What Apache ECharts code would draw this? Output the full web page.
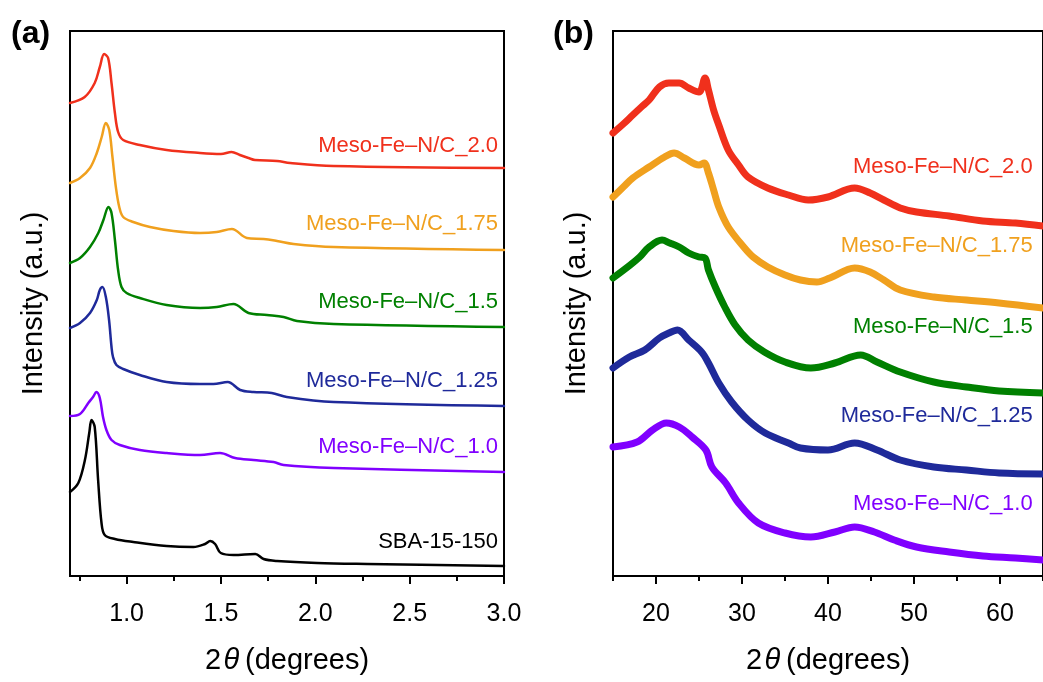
<!DOCTYPE html>
<html>
<head>
<meta charset="utf-8">
<title>XRD patterns</title>
<script src="https://cdn.jsdelivr.net/npm/echarts@6/dist/echarts.min.js"></script>
<style>
  html, body { margin: 0; padding: 0; background: #fff; }
  #chart { width: 1043px; height: 682px; }
</style>
</head>
<body>
<div id="chart"></div>
<script>
// sample names, top to bottom
var namesA = ['Meso-Fe–N/C_2.0', 'Meso-Fe–N/C_1.75', 'Meso-Fe–N/C_1.5', 'Meso-Fe–N/C_1.25', 'Meso-Fe–N/C_1.0', 'SBA-15-150'];
var namesB = ['Meso-Fe–N/C_2.0', 'Meso-Fe–N/C_1.75', 'Meso-Fe–N/C_1.5', 'Meso-Fe–N/C_1.25', 'Meso-Fe–N/C_1.0'];

// tick values
var majorA = [1.0, 1.5, 2.0, 2.5, 3.0];
var minorA = [0.75, 1.25, 1.75, 2.25, 2.75];
var majorB = [20, 30, 40, 50, 60];
var minorB = [15, 25, 35, 45, 55, 65];

// (a) low-angle patterns, [2theta, offset intensity]
var lowFe20 = [[0.70,473],[0.778,479],[0.831,493],[0.858,509],[0.881,522],[0.902,518],[0.920,493],[0.938,463],[0.955,444],[0.982,436],[1.070,431],[1.212,426],[1.389,423],[1.50,422],[1.556,424],[1.60,421],[1.646,418],[1.68,416],[1.797,415],[1.867,413],[2.096,410],[3.0,408]];
var lowFe175 = [[0.70,393],[0.753,398],[0.806,408],[0.842,423],[0.868,439],[0.890,453],[0.908,446],[0.925,419],[0.943,389],[0.961,369],[0.982,359],[1.035,354],[1.124,349],[1.248,345],[1.389,343],[1.478,344],[1.558,347],[1.637,338],[1.726,337],[1.797,335],[1.885,332],[2.098,329],[3.0,326]];
var lowFe15 = [[0.70,313],[0.753,318],[0.806,329],[0.850,343],[0.877,356],[0.904,369],[0.920,363],[0.938,336],[0.955,306],[0.973,289],[1.000,283],[1.070,278],[1.212,271],[1.389,268],[1.478,269],[1.566,272],[1.646,263],[1.744,261],[1.832,259],[1.903,255],[2.098,252],[3.0,249]];
var lowFe125 = [[0.70,248],[0.753,253],[0.806,263],[0.842,276],[0.858,286],[0.872,289],[0.890,279],[0.907,256],[0.920,229],[0.928,219],[0.946,211],[0.982,207],[1.070,201],[1.212,194],[1.389,192],[1.460,192],[1.536,194],[1.602,186],[1.672,184],[1.769,183],[1.849,179],[2.097,174],[3.0,170]];
var lowFe10 = [[0.70,160],[0.753,162],[0.797,173],[0.822,179],[0.840,184],[0.858,178],[0.875,159],[0.893,146],[0.920,136],[0.964,131],[1.070,126],[1.212,123],[1.389,121],[1.495,123],[1.575,118],[1.672,116],[1.779,114],[1.832,111],[2.098,108],[3.0,104]];
var lowSba = [[0.70,84],[0.744,93],[0.779,116],[0.802,143],[0.814,156],[0.831,149],[0.849,96],[0.867,53],[0.884,41],[0.938,37],[1.035,34],[1.212,30],[1.354,29],[1.416,32],[1.443,35],[1.469,32],[1.499,23],[1.567,21],[1.682,22],[1.726,17],[1.797,15],[2.009,13],[2.275,12],[3.0,10]];

// (b) wide-angle patterns
var wideFe20 = [[15,443],[16.2,452],[17.3,461],[18.3,469],[19.2,476],[20.4,489],[21.5,493],[22.7,493],[23.8,488],[25.0,484],[25.7,498],[26.1,486],[26.7,466],[27.3,451],[28.4,426],[29.6,411],[30.7,399],[33.0,388],[35.4,381],[37.7,376],[40.0,379],[43.1,388],[44.9,383],[46.5,376],[48.4,368],[50.3,364],[54.1,360],[58.0,355],[61.8,353],[65,350]];
var wideFe175 = [[15,379],[16.2,389],[17.3,398],[19.2,409],[21.0,419],[22.1,423],[23.3,418],[25.0,411],[25.6,413],[26.1,403],[26.7,386],[27.3,369],[28.4,349],[30.2,329],[31.3,319],[33.0,309],[35.0,301],[36.8,296],[38.7,294],[40.2,298],[43.1,308],[44.9,304],[46.5,296],[48.4,286],[52.3,279],[56.1,276],[59.9,273],[65,268]];
var wideFe15 = [[15,298],[17.0,311],[18.1,319],[19.2,329],[20.7,336],[21.6,333],[22.7,329],[23.8,323],[25.0,319],[25.7,318],[26.1,306],[26.9,289],[28.0,269],[29.2,251],[30.7,236],[32.6,224],[35.0,214],[38.0,208],[40.8,213],[43.8,221],[45.7,214],[48.4,204],[52.3,194],[56.1,189],[59.9,185],[65,183]];
var wideFe125 = [[15,208],[16.9,219],[18.7,226],[20.4,238],[21.5,243],[22.5,246],[23.8,236],[25.3,224],[26.1,213],[27.3,193],[28.8,174],[30.7,156],[32.7,143],[35.4,133],[36.8,128],[40.0,126],[43.1,133],[45.7,126],[48.4,116],[52.3,109],[56.1,106],[59.9,103],[65,102]];
var wideFe10 = [[15,129],[17.8,134],[19.6,146],[21.2,153],[22.7,149],[24.2,139],[25.8,126],[26.5,109],[28.1,93],[29.6,73],[31.9,53],[35.0,43],[38.0,39],[40.8,44],[43.1,49],[45.4,44],[47.7,36],[50.3,29],[54.1,24],[58.0,20],[61.8,18],[65,16]];

// label anchors [2theta, offset intensity]
var labelAtA = [[3.0,430],[3.0,352],[3.0,274],[3.0,195],[3.0,129],[3.0,34]];
var labelAtB = [[64.5,409],[64.5,330],[64.5,249],[64.5,160],[64.5,72]];

var colors = ['#f0301c', '#f0a01e', '#008000', '#1f2a9a', '#8000ff', '#000000'];
var font = 'Arial, "Liberation Sans", Helvetica, sans-serif';

var chart = echarts.init(document.getElementById('chart'));

function makeXAxes(grid, min, max, major, minor, digits) {
    return [{
        gridIndex: grid, type: 'value', min: min, max: max, position: 'bottom',
        axisLine: { show: true, lineStyle: { color: '#000', width: 2 } },
        axisTick: { show: true, length: 8, customValues: major, lineStyle: { color: '#000', width: 2 } },
        axisLabel: { customValues: major, margin: 26, color: '#000', fontSize: 25, fontFamily: font,
            formatter: function (v) { return v.toFixed(digits); } },
        splitLine: { show: false },
        name: '2\u200A{i|θ}\u2009(degrees)', nameLocation: 'middle', nameGap: 70,
        nameTextStyle: { color: '#000', fontSize: 29, fontFamily: font,
            rich: { i: { fontStyle: 'italic', fontSize: 29, fontFamily: font, color: '#000' } } }
    }, {
        gridIndex: grid, type: 'value', min: min, max: max, position: 'bottom',
        axisLine: { show: false },
        axisTick: { show: true, length: 5, customValues: minor, lineStyle: { color: '#000', width: 2 } },
        axisLabel: { show: false, customValues: minor },
        splitLine: { show: false }
    }];
}

function makeYAxis(grid) {
    return {
        gridIndex: grid, type: 'value', min: 0, max: 545,
        axisLine: { show: false }, axisTick: { show: false }, axisLabel: { show: false },
        splitLine: { show: false },
        name: 'Intensity (a.u.)', nameLocation: 'middle', nameGap: 22, nameRotate: 90,
        nameTextStyle: { color: '#000', fontSize: 29, fontFamily: font }
    };
}

function makeSeries(name, data, color, xi, yi, width, lab) {
    return {
        name: name, type: 'line', data: data, xAxisIndex: xi, yAxisIndex: yi,
        showSymbol: false, smooth: 0.35, animation: false,
        lineStyle: { color: color, width: width, join: 'round', cap: 'round' },
        markPoint: {
            symbol: 'circle', symbolSize: 0, animation: false,
            label: { show: true, position: 'left', distance: 6, formatter: '{b}',
                color: color, fontSize: 22, fontFamily: font },
            data: [{ name: name, coord: lab }]
        }
    };
}

var lowSets = [lowFe20, lowFe175, lowFe15, lowFe125, lowFe10, lowSba];
var wideSets = [wideFe20, wideFe175, wideFe15, wideFe125, wideFe10];
var series = [];
lowSets.forEach(function (d, i) {
    series.push(makeSeries(namesA[i], d, colors[i], 0, 0, 2.5, labelAtA[i]));
});
wideSets.forEach(function (d, i) {
    series.push(makeSeries(namesB[i], d, colors[i], 2, 1, 7, labelAtB[i]));
});

var option = {
    backgroundColor: '#fff',
    animation: false,
    grid: [
        { left: 70, top: 31, width: 434, height: 545, show: true, borderColor: '#000', borderWidth: 2 },
        { left: 613, top: 31, width: 435, height: 545, show: true, borderColor: '#000', borderWidth: 2 }
    ],
    xAxis: makeXAxes(0, 0.7, 3.0, majorA, minorA, 1).concat(makeXAxes(1, 15, 65, majorB, minorB, 0)),
    yAxis: [makeYAxis(0), makeYAxis(1)],
    graphic: [
        { type: 'text', left: 11, top: 18, style: { text: '(a)', font: 'bold 32px ' + font, fill: '#000' } },
        { type: 'text', left: 553, top: 18, style: { text: '(b)', font: 'bold 32px ' + font, fill: '#000' } }
    ],
    series: series
};

chart.setOption(option);
</script>
</body>
</html>
